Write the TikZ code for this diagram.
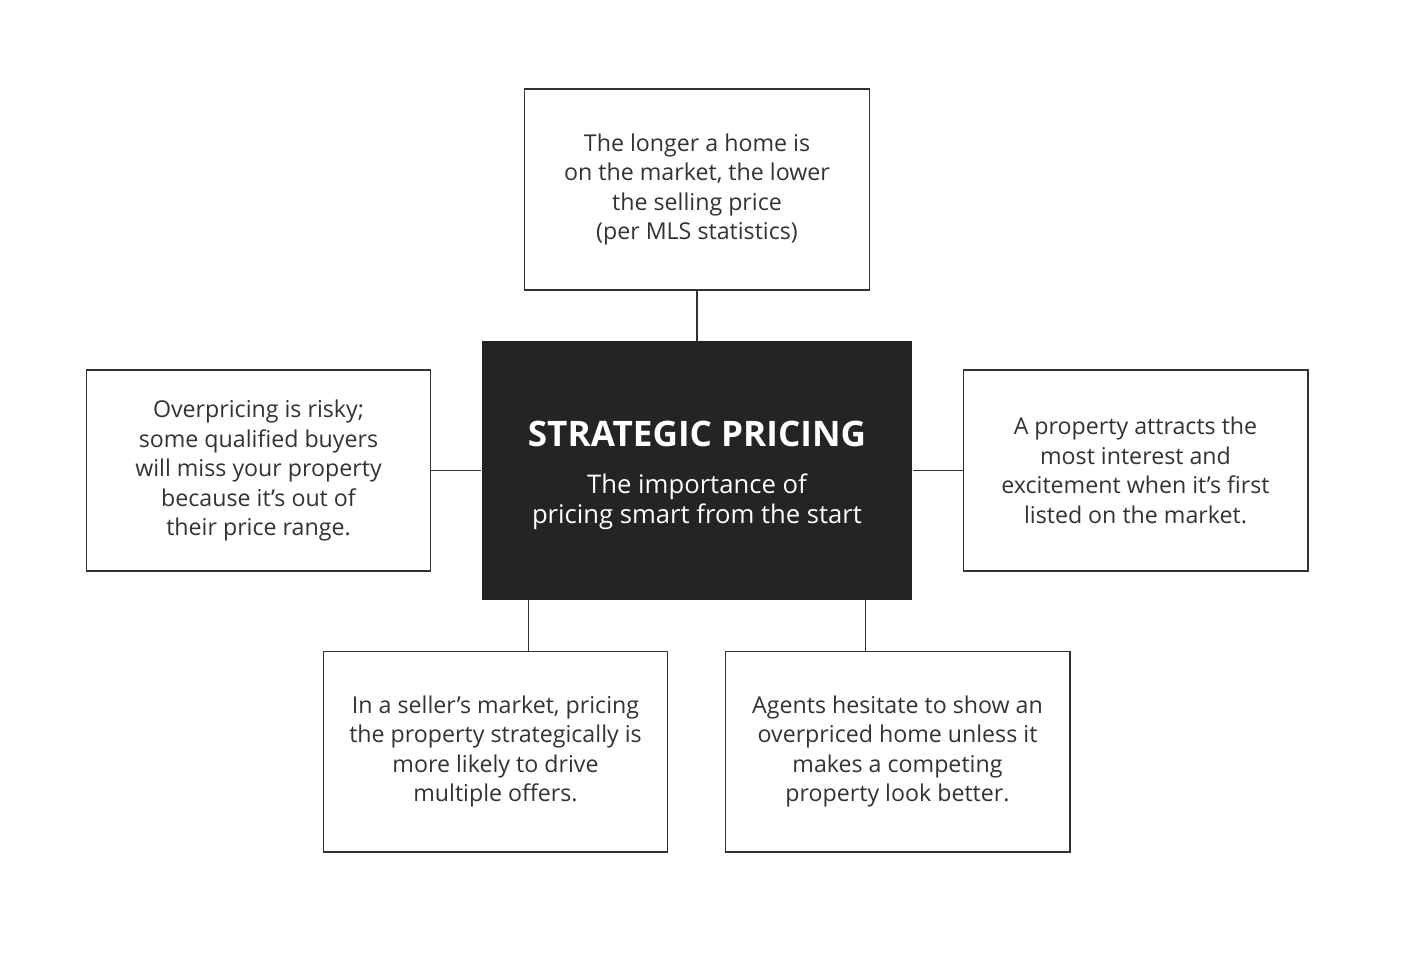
\documentclass[tikz,border=0pt]{standalone}
\usepackage{fontspec}
\setmainfont{Open Sans}
\usetikzlibrary{positioning}
\definecolor{inkgray}{HTML}{333333}
\definecolor{darkbox}{HTML}{252323}

\begin{document}
\begin{tikzpicture}[
x=0.02cm, y=-0.02cm,
note/.style={draw=inkgray, line width=0.6pt, align=center, minimum width=6.9cm, minimum height=4.02cm, text=inkgray, inner sep=0pt, font=\fontsize{13.2}{16.8}\selectfont},
hub/.style={fill=darkbox, align=center, minimum width=8.62cm, minimum height=5.18cm, text=white, inner sep=0pt, font=\fontsize{14.6}{17}\selectfont},
link/.style={draw=inkgray, line width=0.6pt}
]
\useasboundingbox[fill=white] (0,0) rectangle (1404,954);

\node[hub] (hub) at (697,470.5) {{\fontsize{20}{23}\selectfont\bfseries\rule{0pt}{20pt}STRATEGIC PRICING}\\[9.5pt]The importance of\\pricing smart from the start};
\node[note] (top) at (697,189.5) {The longer a home is\\on the market, the lower\\the selling price\\(per MLS statistics)};
\node[note] (left) at (258.5,470.5) {Overpricing is risky;\\some qualified buyers\\will miss your property\\because it’s out of\\their price range.};
\node[note] (right) at (1135.5,470.5) {A property attracts the\\most interest and\\excitement when it’s first\\listed on the market.};
\node[note] (botleft) at (495.5,751.5) {In a seller’s market, pricing\\the property strategically is\\more likely to drive\\multiple offers.};
\node[note] (botright) at (897.5,751.5) {Agents hesitate to show an\\overpriced home unless it\\makes a competing\\property look better.};

% connectors
\path (hub.south west) ++(47,0) coordinate (lfoot);
\path (hub.south east) ++(-47,0) coordinate (rfoot);
\draw[link] (top) -- (hub);
\draw[link] (left) -- (hub);
\draw[link] (right) -- (hub);
\draw[link] (lfoot) -- (lfoot |- botleft.north);
\draw[link] (rfoot) -- (rfoot |- botright.north);
\end{tikzpicture}
\end{document}
